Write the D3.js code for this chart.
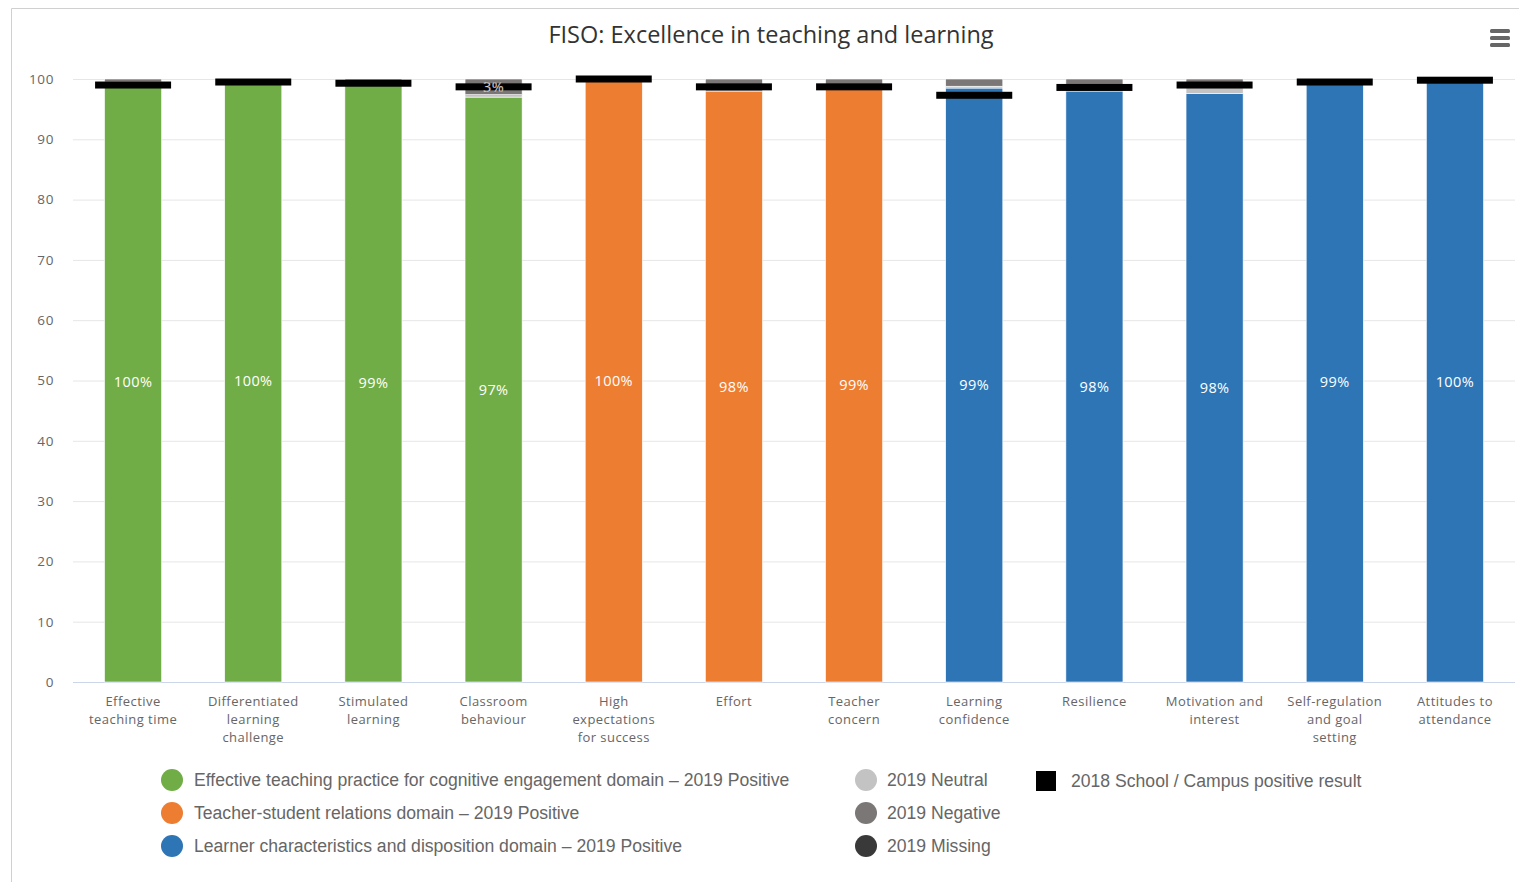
<!DOCTYPE html>
<html>
<head>
<meta charset="utf-8">
<script src="https://cdn.jsdelivr.net/npm/d3@7"></script>
<style>
  body { margin: 0; background: #fff; }
  #chart { width: 1519px; height: 882px; }
  text { font-family: "Open Sans", sans-serif; }
</style>
</head>
<body>
<div id="chart"></div>
<script>
// categories and the domain each belongs to
const categories = [
  "Effective teaching time", "Differentiated learning challenge", "Stimulated learning",
  "Classroom behaviour", "High expectations for success", "Effort", "Teacher concern",
  "Learning confidence", "Resilience", "Motivation and interest",
  "Self-regulation and goal setting", "Attitudes to attendance"
];
const categoryLines = [
  ["Effective", "teaching time"], ["Differentiated", "learning", "challenge"], ["Stimulated", "learning"],
  ["Classroom", "behaviour"], ["High", "expectations", "for success"], ["Effort"], ["Teacher", "concern"],
  ["Learning", "confidence"], ["Resilience"], ["Motivation and", "interest"],
  ["Self-regulation", "and goal", "setting"], ["Attitudes to", "attendance"]
];
const domains = [0, 0, 0, 0, 1, 1, 1, 2, 2, 2, 2, 2];

// 2019 results (percent)
const positive2019 = [99.5, 99.7, 99.2, 97.0, 100, 98.0, 98.6, 98.5, 98.0, 97.6, 99.4, 99.6];
const neutral2019  = [0, 0, 0, 0.4, 0, 0, 0, 0.3, 0, 1.6, 0, 0];
const negative2019 = [0.5, 0.3, 0.8, 2.6, 0, 2.0, 1.4, 1.2, 2.0, 0.8, 0.6, 0.4];
const missing2019  = [0, 0, 0, 0, 0, 0, 0, 0, 0, 0, 0, 0];
// 2018 school positive result (marker)
const positive2018 = [99.0, 99.5, 99.3, 98.7, 100, 98.7, 98.7, 97.3, 98.6, 99.0, 99.5, 99.8];

const yTicks = [0, 10, 20, 30, 40, 50, 60, 70, 80, 90, 100];

const domainNames = [
  "Effective teaching practice for cognitive engagement domain \u2013 2019 Positive",
  "Teacher-student relations domain \u2013 2019 Positive",
  "Learner characteristics and disposition domain \u2013 2019 Positive"
];
const domainColors = ["#70ad47", "#ed7d31", "#2e75b6"];
const otherNames = ["2019 Neutral", "2019 Negative", "2019 Missing"];
const otherColors = ["#c3c3c3", "#7b7777", "#393939"];

let width = 1519, height = 882;
let margin = { left: 73, right: 4, top: 79, bottom: 200 };

let svg = d3.select("#chart").append("svg")
  .attr("width", width)
  .attr("height", height);

// card border
svg.append("path")
  .attr("d", "M11.5,882 L11.5,8.5 L1519,8.5")
  .attr("fill", "none")
  .attr("stroke", "#d0d0d0");

svg.append("text")
  .attr("x", 771)
  .attr("y", 43)
  .attr("text-anchor", "middle")
  .attr("font-size", 23.5)
  .attr("fill", "#333")
  .text("FISO: Excellence in teaching and learning");

// menu icon
[31, 38, 45].forEach(function(y) {
  svg.append("rect")
    .attr("x", 1490).attr("y", y - 2)
    .attr("width", 20).attr("height", 4)
    .attr("rx", 1.5)
    .attr("fill", "#666");
});

let x = d3.scaleBand()
  .domain(categories)
  .range([margin.left, width - margin.right])
  .paddingInner(0.525)
  .paddingOuter(0.2625);

let y = d3.scaleLinear()
  .domain([0, 100])
  .range([682, 79]);

// gridlines + y labels
let yAxis = d3.axisLeft(y)
  .tickValues(yTicks)
  .tickSize(-(width - margin.right - margin.left))
  .tickPadding(19);

let yg = svg.append("g")
  .attr("transform", `translate(${margin.left},0)`)
  .call(yAxis);
yg.select(".domain").remove();
yg.selectAll(".tick line").attr("stroke", "#e6e6e6");
yg.selectAll(".tick text")
  .attr("fill", "#666")
  .attr("font-size", 13.5)
  .attr("letter-spacing", 0.6)
  .attr("font-family", "Open Sans, sans-serif");

// x axis line
svg.append("line")
  .attr("x1", margin.left).attr("x2", width - margin.right)
  .attr("y1", y(0) + 0.5).attr("y2", y(0) + 0.5)
  .attr("stroke", "#ccd6eb");

// stacked series
let stacks = [
  { values: positive2019, color: function(i) { return domainColors[domains[i]]; } },
  { values: neutral2019, color: function() { return otherColors[0]; } },
  { values: negative2019, color: function() { return otherColors[1]; } },
  { values: missing2019, color: function() { return otherColors[2]; } }
];

let labels = [];
let base = categories.map(function() { return 0; });
let barG = svg.append("g");
stacks.forEach(function(s, si) {
  categories.forEach(function(c, i) {
    let v = s.values[i];
    if (v <= 0) return;
    let y0 = base[i], y1 = base[i] + v;
    barG.append("rect")
      .attr("x", x(c))
      .attr("width", x.bandwidth())
      .attr("y", y(y1))
      .attr("height", y(y0) - y(y1))
      .attr("fill", s.color(i))
      .attr("stroke", "#fff")
      .attr("stroke-width", 0.6);
    if (y(y0) - y(y1) >= 14) {
      labels.push({ x: x(c) + x.bandwidth() / 2, y: y((y0 + y1) / 2), v: v, si: si });
    }
    base[i] = y1;
  });
});

// 2018 markers
svg.append("g").selectAll("rect")
  .data(positive2018)
  .enter()
  .append("rect")
  .attr("x", function(d, i) { return x(categories[i]) + x.bandwidth() / 2 - 38; })
  .attr("y", function(d) { return y(d) - 3.5; })
  .attr("width", 76)
  .attr("height", 7)
  .attr("fill", "#000");

// data labels on top
svg.append("g").selectAll("text")
  .data(labels)
  .enter()
  .append("text")
  .attr("x", function(d) { return d.x; })
  .attr("y", function(d) { return d.y; })
  .attr("dy", "0.35em")
  .attr("text-anchor", "middle")
  .attr("font-size", 14.5)
  .attr("letter-spacing", 0.4)
  .attr("fill", "#fff")
  .attr("stroke", function(d) { return d.si === 0 ? "none" : "#555"; })
  .attr("stroke-width", 0.3)
  .text(function(d) { return Math.round(d.v) + "%"; });

// category labels
let xl = svg.append("g");
categories.forEach(function(c, i) {
  let t = xl.append("text")
    .attr("x", x(c) + x.bandwidth() / 2)
    .attr("y", 706)
    .attr("text-anchor", "middle")
    .attr("font-size", 13)
    .attr("letter-spacing", 0.45)
    .attr("fill", "#666");
  categoryLines[i].forEach(function(line, li) {
    t.append("tspan")
      .attr("x", x(c) + x.bandwidth() / 2)
      .attr("dy", li === 0 ? 0 : 18)
      .text(line);
  });
});

// legend
let legend = svg.append("g");
let rowY = [780, 813, 846];
let lfont = "Liberation Sans, Arial, sans-serif";
domainNames.forEach(function(n, i) {
  legend.append("circle")
    .attr("cx", 172).attr("cy", rowY[i]).attr("r", 11)
    .attr("fill", domainColors[i]);
  legend.append("text")
    .attr("x", 194).attr("y", rowY[i]).attr("dy", "0.35em")
    .attr("font-size", 17.6).attr("fill", "#666")
    .style("font-family", lfont)
    .text(n);
});
otherNames.forEach(function(n, i) {
  legend.append("circle")
    .attr("cx", 866).attr("cy", rowY[i]).attr("r", 11)
    .attr("fill", otherColors[i]);
  legend.append("text")
    .attr("x", 887).attr("y", rowY[i]).attr("dy", "0.35em")
    .attr("font-size", 17.6).attr("fill", "#666")
    .style("font-family", lfont)
    .text(n);
});
legend.append("rect")
  .attr("x", 1036).attr("y", 771)
  .attr("width", 20).attr("height", 20)
  .attr("fill", "#000");
legend.append("text")
  .attr("x", 1071).attr("y", 781).attr("dy", "0.35em")
  .attr("font-size", 17.6).attr("fill", "#666")
  .style("font-family", lfont)
  .text("2018 School / Campus positive result");
</script>
</body>
</html>
